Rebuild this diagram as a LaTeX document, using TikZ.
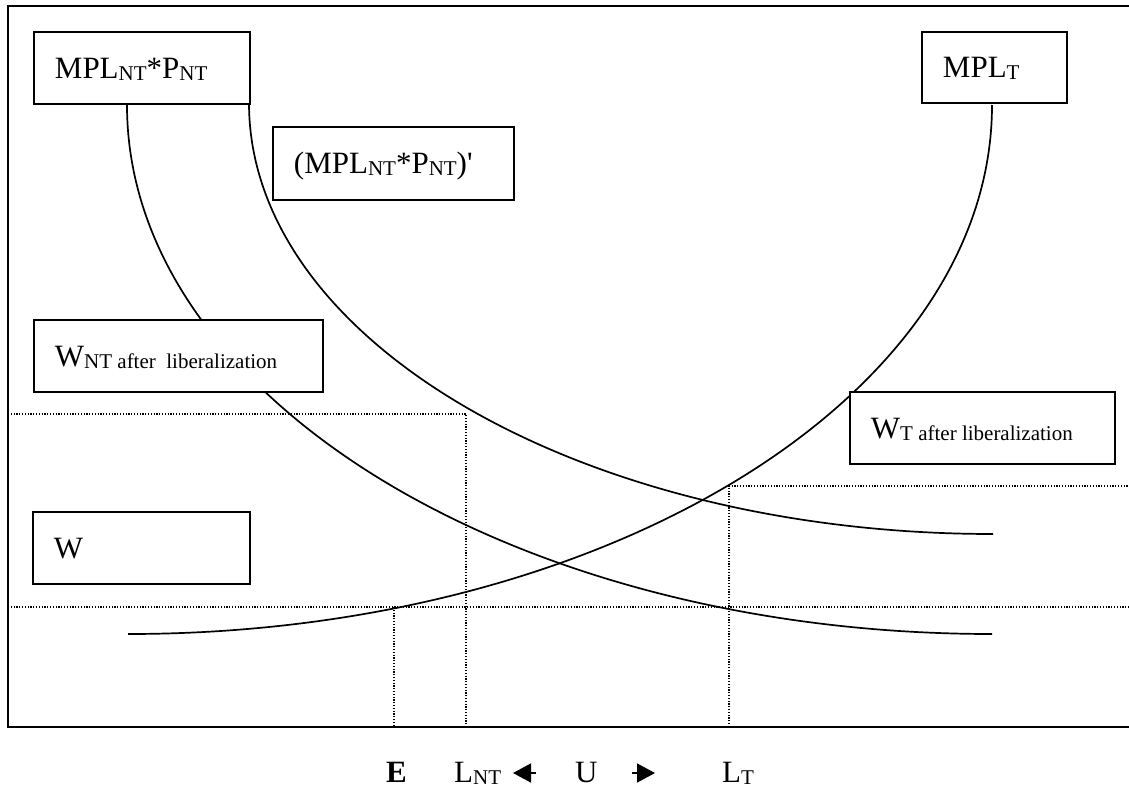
\documentclass[tikz,border=0pt]{standalone}
\usepackage{fontspec}
\setmainfont{Liberation Serif}
\usetikzlibrary{arrows.meta}
\newcommand\smallsub[1]{\raisebox{-2pt}{\fontsize{21}{21}\selectfont #1}}
\newcommand\boxtext[2]{\makebox[#1][l]{#2}}
\begin{document}
\begin{tikzpicture}[x=1pt,y=-1pt,
  box/.style={draw, fill=white, line width=1.9pt, anchor=north west, inner xsep=21pt, inner ysep=0pt,
              text height=21pt, text depth=0pt, font=\fontsize{31}{34}\selectfont},
  curve/.style={line width=1.7pt},
  frameline/.style={line width=1.9pt},
  dots/.style={line width=1.2pt, dash pattern=on 1.2pt off 1.6pt},
  lbl/.style={anchor=base west, inner sep=0pt, font=\fontsize{31}{34}\selectfont},
  tri/.style={line width=1.6pt, -{Triangle[length=18pt,width=19pt]}}]
\useasboundingbox (0,0) rectangle (1129,787);

% frame (open on the right)
\coordinate (ftr) at (1129,6);
\coordinate (ftl) at (8,6);
\coordinate (fbl) at (8,727);
\coordinate (fbr) at (1129,727);
\draw[frameline] (ftr) -- (ftl) -- (fbl) -- (fbr);

% dotted guide lines
\coordinate (h1a) at (8,414);   \coordinate (h1b) at (466,414);  \coordinate (v1b) at (466,727);
\coordinate (h2a) at (8,607);   \coordinate (h2b) at (1129,607);
\coordinate (v2a) at (394,607); \coordinate (v2b) at (394,727);
\coordinate (v3a) at (729,727); \coordinate (v3b) at (729,486); \coordinate (h3b) at (1129,486);
\draw[dots] (h1a) -- (h1b) -- (v1b);
\draw[dots] (h2a) -- (h2b);
\draw[dots] (v2a) -- (v2b);
\draw[dots] (v3a) -- (v3b) -- (h3b);

% curves (quarter ellipses)
\coordinate (cA0) at (127,105); \coordinate (cA1) at (992,634);
\coordinate (cB0) at (249,103); \coordinate (cB1) at (993,534);
\coordinate (cC0) at (128,634); \coordinate (cC1) at (992,105);
\draw[curve] (cA0) .. controls (127,397) and (514,634) .. (cA1);
\draw[curve] (cB0) .. controls (249,341) and (582,534) .. (cB1);
\draw[curve] (cC0) .. controls (605,634) and (992,397) .. (cC1);

% boxes
\node[box, minimum height=72pt] (mplnt) at (33,31) {\boxtext{174pt}{MPL\smallsub{NT}*P\smallsub{NT}}};
\node[box, minimum height=73pt] (mplntp) at (272,126) {\boxtext{199pt}{(MPL\smallsub{NT}*P\smallsub{NT})\textquotesingle}};
\node[box, minimum height=71pt] (mplt) at (921,31) {\boxtext{103pt}{MPL\smallsub{T}}};
\node[box, minimum height=72pt] (wnt) at (33,319) {\boxtext{247pt}{W\smallsub{NT after\ \ liberalization}}};
\node[box, minimum height=72pt] (w) at (32,511) {\boxtext{175pt}{W}};
\node[box, minimum height=72pt] (wt) at (849,391) {\boxtext{223pt}{W\smallsub{T after liberalization}}};

% bottom labels
\node[lbl] (lE) at (386,782) {\textbf{E}};
\node[lbl] (lLNT) at (454,782) {L\smallsub{NT}};
\node[lbl] (lU) at (575,782) {U};
\node[lbl] (lLT) at (722,782) {L\smallsub{T}};
\coordinate (al0) at (536,773); \coordinate (al1) at (513,773);
\coordinate (ar0) at (632,773); \coordinate (ar1) at (655,773);
\draw[tri] (al0) -- (al1);
\draw[tri] (ar0) -- (ar1);
\end{tikzpicture}
\end{document}
